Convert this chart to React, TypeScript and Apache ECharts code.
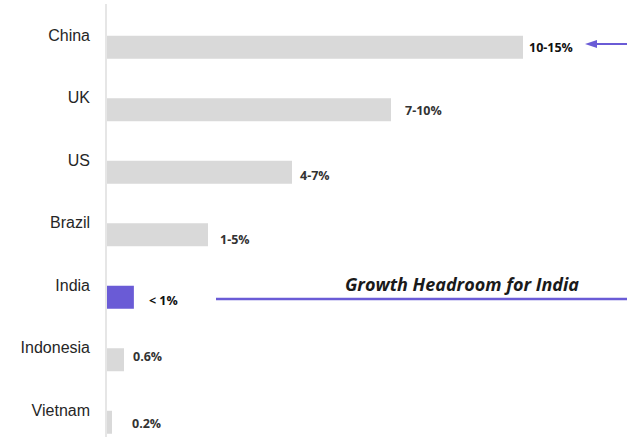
import React, { useEffect, useRef } from "react";
import * as echarts from "echarts";

// Countries, top to bottom
const countries = ["China", "UK", "US", "Brazil", "India", "Indonesia", "Vietnam"];
// Bar lengths (%) used for the horizontal bars
const shares = [13.9, 9.5, 6.2, 3.4, 0.93, 0.6, 0.2];
// Text shown next to each bar
const shareLabels = ["10-15%", "7-10%", "4-7%", "1-5%", "< 1%", "0.6%", "0.2%"];
const highlight = "India";
const headline = "Growth Headroom for India";

const GREY = "#d9d9d9";
const PURPLE = "#6a5bd6";

export default function App() {
  const ref = useRef<HTMLDivElement>(null);

  useEffect(() => {
    if (!ref.current) return;
    const chart = echarts.init(ref.current, undefined, { renderer: "svg" });

    // extra horizontal gap between bar end and its label, per row
    const labelGap = [6, 14, 8, 12, 15, 9, 20];
    const labelDrop = [0, 1, 3, 5, 3, -3, 1];
    const boldRows = ["China", "India"];

    const data = shares.map((v, i) => ({
      value: v,
      itemStyle: { color: countries[i] === highlight ? PURPLE : GREY },
      label: {
        distance: labelGap[i],
        offset: [0, labelDrop[i]],
        color: boldRows.includes(countries[i]) ? "#111" : "#333",
      },
    }));

    chart.setOption({
      animation: false,
      grid: { left: 106, right: 0, top: 16, height: 437.5 },
      xAxis: {
        type: "value",
        min: 0,
        max: (627 - 106) / 30,
        show: false,
      },
      yAxis: {
        type: "category",
        inverse: true,
        data: countries,
        axisLine: { show: false },
        axisTick: { show: false },
        axisLabel: {
          margin: 16,
          verticalAlign: "bottom",
          padding: [0, 0, 4, 0],
          fontFamily: "Liberation Sans, Arial, sans-serif",
          fontSize: 16,
          color: "#262626",
        },
      },
      series: [
        {
          type: "bar",
          data,
          barWidth: 23,
          label: {
            show: true,
            position: "right",
            formatter: (p: any) => shareLabels[p.dataIndex],
            fontFamily: "Open Sans, sans-serif",
            fontSize: 12.5,
            fontWeight: 700,
          },
        },
      ],
      graphic: [
        // vertical baseline
        {
          type: "line",
          shape: { x1: 106, y1: 4, x2: 106, y2: 437 },
          style: { stroke: "#e6e6e6", lineWidth: 2 },
          z: 10,
        },
        // arrow pointing at China's label
        {
          type: "line",
          shape: { x1: 594, y1: 44, x2: 627, y2: 44 },
          style: { stroke: PURPLE, lineWidth: 2 },
        },
        {
          type: "polygon",
          shape: { points: [[585, 44], [597, 40], [597, 48]] },
          style: { fill: PURPLE },
        },
        // headroom marker line next to India
        {
          type: "line",
          shape: { x1: 216, y1: 299, x2: 627, y2: 299 },
          style: { stroke: PURPLE, lineWidth: 2.5 },
        },
        {
          type: "text",
          x: 462,
          y: 284,
          style: {
            text: headline,
            align: "center",
            verticalAlign: "middle",
            fontFamily: "Open Sans, sans-serif",
            fontSize: 18,
            fontWeight: 700,
            fontStyle: "italic",
            fill: "#1a1a1a",
          },
        },
      ],
    });

    return () => chart.dispose();
  }, []);

  return (
    <div
      ref={ref}
      style={{ position: "fixed", left: 0, top: 0, width: 627, height: 470, background: "#fff" }}
    />
  );
}
